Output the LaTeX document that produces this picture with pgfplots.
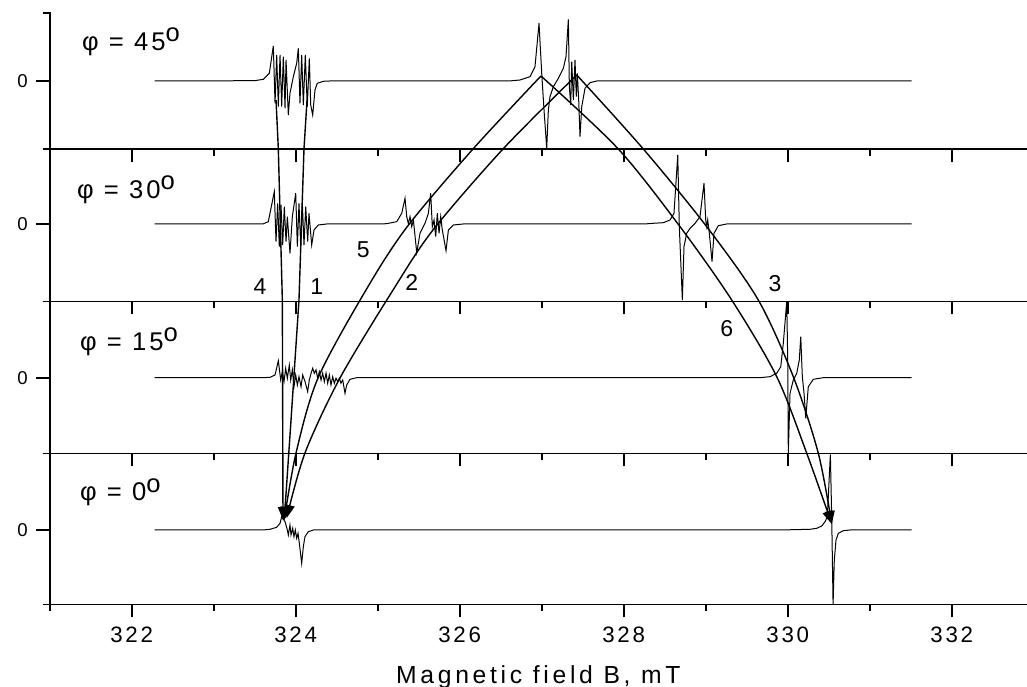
\documentclass[border=0pt]{standalone}
\usepackage{fontspec}
\setmainfont{Liberation Sans}
\newfontfamily\lsp[LetterSpace=15]{Liberation Sans}
\newfontfamily\tsp[LetterSpace=12]{Liberation Sans}
\usepackage{pgfplots}
\pgfplotsset{compat=1.18}
\usetikzlibrary{arrows.meta}
\pgfplotsset{
  panel/.style={
    scale only axis, width=977.3pt,
    xmin=321, xmax=332.918,
    axis line style={draw=none},
    xtick pos=left, ytick pos=both,
    xtick={322,324,...,332}, minor xtick={321,323,...,333},
    ytick={0},
    tick align=outside,
    major tick length=13pt, minor tick length=7pt,
    tick style={draw=black, line width=1.8pt},
    major tick style={draw=black, line width=1.8pt},
    minor tick style={draw=black, line width=1.8pt},
    yticklabel pos=left,
    yticklabel style={font=\fontsize{18.6}{18.6}\selectfont, anchor=east, inner sep=0pt, xshift=-8.7pt},
    xticklabel style={font={\tsp\fontsize{22.3}{22.3}\selectfont}, anchor=base, inner sep=0pt, yshift=-25pt},
    /pgf/number format/assume math mode=true,
    clip=false,
    zrel/.initial=0.5,
    after end axis/.code={
      \draw[line width=1.8pt, line cap=rect] (rel axis cs:0,1) -- (rel axis cs:0,0) -- (rel axis cs:1,0);
      \draw[line width=1.8pt] (rel axis cs:0,\pgfkeysvalueof{/pgfplots/zrel}) -- ++(-14pt,0pt);
      \draw[line width=1.8pt] (rel axis cs:0,0) -- ++(-7pt,0pt);
      \draw[line width=1.8pt] (rel axis cs:0,1) -- ++(-7pt,0pt);
    },
  },
  spec/.style={black, line width=1pt, sharp plot, no markers},
  arr/.style={black, line width=1.4pt, no markers, -{Triangle[length=13pt,width=10pt]}},
}
\tikzset{
  plab/.style={anchor=west, inner sep=0pt, font={\tsp\fontsize{25.6}{25.6}\selectfont}},
  nlab/.style={anchor=center, inner sep=0pt, font={\fontsize{23}{23}\selectfont}},
}
\begin{document}
\begin{tikzpicture}
\useasboundingbox (0,0) rectangle (1027pt,687pt);
% ---------------- Panel 1 : phi = 45
\begin{axis}[panel, zrel=0.5, at={(49.7pt,538pt)}, anchor=south west, height=136pt,
  ymin=-68, ymax=68, minor ytick={-68,68}, xticklabels={}]
\addplot[spec] coordinates {(322.28,0) (323.5,0.3) (323.605,1.7) (323.678,7.7) (323.727,35) (323.748,-22.3) (323.768,26) (323.788,-25.7) (323.809,26) (323.829,-25.7) (323.849,24.3) (323.870,-27.3) (323.882,21) (323.910,-34) (323.930,-12.3) (323.971,4.3) (324.012,17.7) (324.032,32.7) (324.052,-22.3) (324.073,26) (324.093,-24) (324.117,26) (324.141,-25.7) (324.166,22.7) (324.183,-24) (324.207,-34) (324.235,-9) (324.263,-2.3) (324.337,-0.3) (324.418,0)
 (326.6,0) (326.735,1) (326.857,4.3) (326.918,14.3) (326.967,57.7) (327.0,7.7) (327.028,-29) (327.061,-67.3) (327.081,-29) (327.101,-15.7) (327.142,-5.7) (327.203,2.7) (327.264,12.7) (327.296,24.3) (327.325,61.7) (327.337,-5.7) (327.354,-24) (327.366,19.3) (327.386,-19) (327.406,21) (327.422,-15.7) (327.434,7.7) (327.451,-19) (327.467,-55.7) (327.488,-25.7) (327.528,-7.3) (327.589,-1.7) (327.671,0) (331.51,0)};
\node[plab] at (axis cs:321.394,39) {φ = 45\raisebox{0.33em}{o}};
\end{axis}
% ---------------- Panel 2 : phi = 30
\begin{axis}[panel, zrel=0.5082, at={(49.7pt,385.5pt)}, anchor=south west, height=152.5pt,
  ymin=-77.5, ymax=75, minor ytick={-77.5,75}, xticklabels={}]
\addplot[spec] coordinates {(322.28,0) (323.6,0) (323.666,2.3) (323.739,32.3) (323.760,-17.7) (323.780,20.7) (323.800,-22.7) (323.821,19) (323.841,-21) (323.861,17.3) (323.882,-17.7) (323.898,7.3) (323.930,-29.3) (323.959,7.3) (324.0,30.7) (324.020,-22.7) (324.040,20.7) (324.061,-22.7) (324.081,20.7) (324.101,-21) (324.122,17.3) (324.146,-17.7) (324.162,10.7) (324.195,-21) (324.223,-6) (324.276,-1) (324.378,0)
 (325.0,0) (325.110,0.3) (325.232,2.3) (325.293,10.7) (325.333,25.7) (325.354,7.3) (325.374,0.3) (325.394,7.3) (325.415,-2.7) (325.435,4) (325.476,-28.7) (325.516,-9.3) (325.577,0.7) (325.618,10.7) (325.646,30.7) (325.666,-2.7) (325.687,4) (325.707,-12.7) (325.727,10.7) (325.748,-9.3) (325.768,7.3) (325.788,-6) (325.833,-26.7) (325.862,-6) (325.923,-1) (326.044,0)
 (328.25,0) (328.361,0.7) (328.483,1.3) (328.565,4) (328.613,10.7) (328.659,69) (328.678,-2.7) (328.715,-76) (328.735,-22.7) (328.768,-9.3) (328.809,-4.3) (328.870,0.7) (328.930,7.3) (328.979,40.7) (329.0,4) (329.012,-2.7) (329.024,4) (329.040,-6) (329.077,-37.7) (329.101,-9.3) (329.154,-1.7) (329.256,0) (331.51,0)};
\node[plab] at (axis cs:321.333,34) {φ = 30\raisebox{0.33em}{o}};
\end{axis}
% ---------------- Panel 3 : phi = 15
\begin{axis}[panel, zrel=0.4987, at={(49.7pt,233.5pt)}, anchor=south west, height=152pt,
  ymin=-75.8, ymax=76.2, minor ytick={-75.8,76.2}, xticklabels={}]
\addplot[spec] coordinates {(322.28,0) (323.6,0) (323.687,0.4) (323.748,2.7) (323.788,17) (323.817,-2.3) (323.837,6) (323.857,-4) (323.878,9.4) (323.898,-0.6) (323.922,12.7) (323.939,-2.3) (323.959,7.7) (323.979,-9) (324.0,2.7) (324.020,-7.3) (324.040,1) (324.065,-9) (324.085,2.7) (324.114,-4) (324.146,-14) (324.166,-2.3) (324.187,4.4) (324.207,9.4) (324.227,4.4) (324.248,7.7) (324.268,-0.6) (324.288,6) (324.309,-2.3) (324.329,4.4) (324.349,-4) (324.370,4.4) (324.390,-5.6) (324.410,2.7) (324.430,-7.3) (324.451,1) (324.471,-5.6) (324.491,-0.6) (324.512,-4) (324.532,-0.6) (324.552,-5.6) (324.573,-2.3) (324.601,-15.6) (324.622,-7.3) (324.662,-1.6) (324.744,0)
 (329.5,0) (329.662,0) (329.784,1) (329.866,4.4) (329.915,11) (329.946,34.4) (329.988,76) (330.0,17.7) (330.007,-75.6) (330.028,-15.6) (330.068,-2.3) (330.110,4.4) (330.141,17.7) (330.159,41) (330.178,1) (330.199,-15.6) (330.220,-40.6) (330.251,-9) (330.312,-1.6) (330.434,0) (331.51,0)};
\node[plab] at (axis cs:321.37,35.7) {φ = 15\raisebox{0.33em}{o}};
\end{axis}
% ---------------- Panel 4 : phi = 0
\begin{axis}[panel, zrel=0.4934, at={(49.7pt,82.5pt)}, anchor=south west, height=151pt,
  ymin=-74.5, ymax=76.5, minor ytick={-74.5,76.5},
  xlabel={Magnetic field B, mT},
  xlabel style={at={(axis description cs:0.5,0)}, anchor=base, yshift=-78.8pt, inner sep=0pt, font={\lsp\fontsize{24.7}{24.7}\selectfont}}]
\addplot[spec] coordinates {(322.28,0) (323.6,0) (323.687,0.7) (323.768,2.7) (323.809,6.7) (323.829,13.3) (323.870,8.3) (323.898,0) (323.910,-5) (323.930,5) (323.943,-5) (323.963,1.7) (323.979,-6.7) (323.995,0) (324.012,-8.3) (324.028,-3.3) (324.044,-13.3) (324.073,-33.3) (324.093,-16.7) (324.113,-6.7) (324.154,-1.7) (324.215,0)
 (329.9,0) (330.272,0.7) (330.354,1.7) (330.415,4) (330.455,8.3) (330.483,13.3) (330.520,75.7) (330.537,10) (330.553,-74.3) (330.568,-30) (330.589,-10) (330.617,-3.3) (330.678,-0.7) (330.760,0) (331.51,0)};
\node[plab] at (axis cs:321.37,38) {φ = 0\raisebox{0.33em}{o}};
% arrows (y in pixels above the phi=0 baseline)
\addplot[arr, sharp plot] coordinates {(323.760,430) (323.788,381) (323.837,230) (323.845,10)};
\addplot[arr, sharp plot] coordinates {(324.138,430) (324.101,381) (324.040,230) (323.943,110) (323.86,10)};
\addplot[arr, smooth] coordinates {(326.991,454) (326.162,381) (325.357,303) (324.857,240) (324.272,152) (324.004,77) (323.86,10)};
\addplot[arr, smooth] coordinates {(327.427,455) (326.528,381) (325.674,300) (325.187,240) (324.540,152) (324.113,77) (323.89,12)};
\addplot[arr, smooth] coordinates {(326.991,454) (327.934,381) (328.687,303.3) (329.317,230) (329.866,153.3) (330.232,76.7) (330.537,6)};
\addplot[arr, smooth] coordinates {(327.427,455) (328.239,381) (329.012,303.3) (329.641,230) (330.068,153.3) (330.373,76.7) (330.537,6)};
\node[nlab] at (axis cs:323.565,243.3) {4};
\node[nlab] at (axis cs:324.256,243.3) {1};
\node[nlab] at (axis cs:324.824,280) {5};
\node[nlab] at (axis cs:325.415,247.3) {2};
\node[nlab] at (axis cs:329.845,246.7) {3};
\node[nlab] at (axis cs:329.256,201.7) {6};
\end{axis}
\end{tikzpicture}
\end{document}
